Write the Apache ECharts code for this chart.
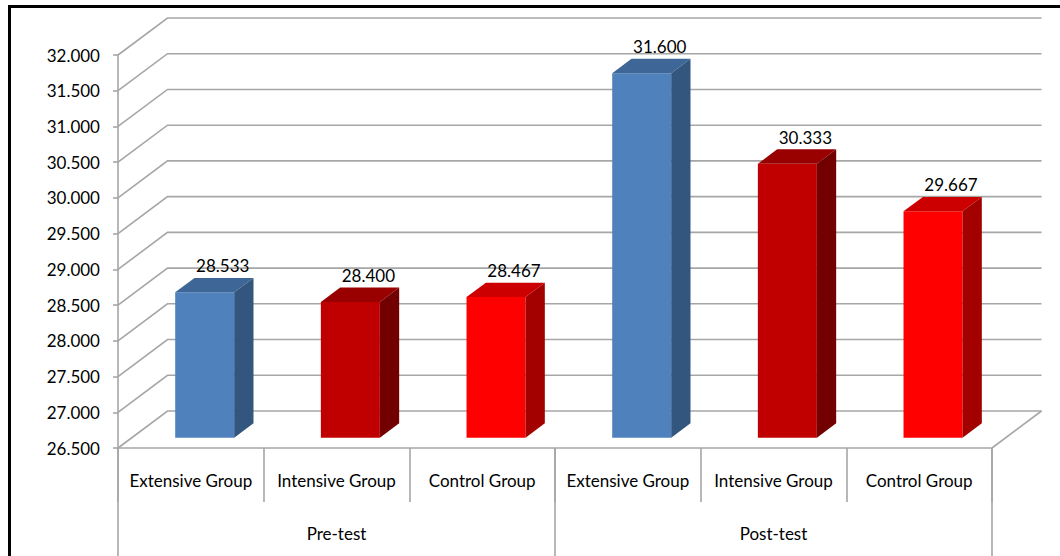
<!DOCTYPE html>
<html>
<head>
<meta charset="utf-8">
<style>
  html, body { margin: 0; padding: 0; background: #fff; }
  #chart { width: 1060px; height: 556px; }
</style>
<script src="https://cdn.jsdelivr.net/npm/echarts@6/dist/echarts.min.js"></script>
</head>
<body>
<div id="chart"></div>
<script>
// ---- data ----
const categories = ['Extensive Group', 'Intensive Group', 'Control Group', 'Extensive Group', 'Intensive Group', 'Control Group'];
const groups = ['Pre-test', 'Post-test'];
const values = [28.533, 28.400, 28.467, 31.600, 30.333, 29.667];
const yTicks = [26.5, 27, 27.5, 28, 28.5, 29, 29.5, 30, 30.5, 31, 31.5, 32];

// ---- style ----
const Y_MIN = 26.5, Y_MAX = 32, Y_STEP = 0.5;
const DX = 49.5, DY = -37;          // depth of the 3D box
const FONT = 'Lato';
const FS = 17;
const GRID_COLOR = '#a6a6a6';
const barStyles = [
  { front: '#4F81BD', top: '#3E6697', side: '#33567F' },
  { front: '#C00000', top: '#990000', side: '#720000' },
  { front: '#FF0000', top: '#CC0000', side: '#A30000' },
  { front: '#4F81BD', top: '#3E6697', side: '#33567F' },
  { front: '#C00000', top: '#990000', side: '#720000' },
  { front: '#FF0000', top: '#CC0000', side: '#A30000' }
];

const chart = echarts.init(document.getElementById('chart'), null, { renderer: 'svg' });

function wallItem(params, api) {
  const v = api.value(1);
  const p = api.coord([0, v]);
  const cs = params.coordSys;
  const left = cs.x, right = cs.x + cs.width;
  const y = p[1];
  const children = [{
    type: 'polyline',
    shape: { points: [[left, y], [left + DX, y + DY], [right + DX, y + DY]] },
    style: { stroke: GRID_COLOR, lineWidth: 1.6, fill: null }
  }];
  if (v === Y_MIN) {
    children.push({
      type: 'line',
      shape: { x1: right, y1: y, x2: right + DX, y2: y + DY },
      style: { stroke: GRID_COLOR, lineWidth: 1.6 }
    });
  }
  return { type: 'group', children: children };
}

function barItem(params, api) {
  const i = api.value(0), v = api.value(1);
  const base = api.coord([i, Y_MIN]);
  const top = api.coord([i, v]);
  const band = api.size([1, 0])[0];
  const w = band * 0.405;
  const d0 = 0.28, dd = 0.39;
  const x0 = base[0] - w / 2 + d0 * DX, x1 = x0 + w;
  const yb = base[1] + d0 * DY, yt = top[1] + d0 * DY;
  const ox = dd * DX, oy = dd * DY;
  const s = barStyles[i];
  return {
    type: 'group',
    children: [
      { type: 'rect', shape: { x: x0, y: yt, width: w, height: yb - yt }, style: { fill: s.front } },
      { type: 'polygon', shape: { points: [[x0, yt], [x1, yt], [x1 + ox, yt + oy], [x0 + ox, yt + oy]] }, style: { fill: s.top } },
      { type: 'polygon', shape: { points: [[x1, yt], [x1 + ox, yt + oy], [x1 + ox, yb + oy], [x1, yb]] }, style: { fill: s.side } },
      { type: 'text', x: (x0 + x1) / 2 + 18, y: yt + oy - 12,
        style: { text: v.toFixed(3), fill: '#000', font: FS + 'px ' + FONT, align: 'center', verticalAlign: 'middle' } }
    ]
  };
}

const axisLineStyle = { color: GRID_COLOR, width: 1.6 };

chart.setOption({
  animation: false,
  backgroundColor: '#fff',
  grid: { left: 118, right: 68, top: 55, bottom: 108, containLabel: false },
  xAxis: [
    {
      type: 'category', data: categories, position: 'bottom',
      axisLine: { show: true, lineStyle: axisLineStyle },
      axisTick: { show: true, length: 54, interval: 0, alignWithLabel: false, lineStyle: axisLineStyle },
      axisLabel: { interval: 0, margin: 32, verticalAlign: 'middle', color: '#000', fontFamily: FONT, fontSize: FS },
      splitLine: { show: false }
    },
    {
      type: 'category', data: groups, position: 'bottom',
      axisLine: { show: false },
      axisTick: { show: true, length: 112, interval: 0, alignWithLabel: false, lineStyle: axisLineStyle },
      axisLabel: { interval: 0, margin: 85, verticalAlign: 'middle', color: '#000', fontFamily: FONT, fontSize: FS },
      splitLine: { show: false }
    }
  ],
  yAxis: {
    type: 'value', min: Y_MIN, max: Y_MAX, interval: Y_STEP,
    axisLine: { show: true, lineStyle: axisLineStyle },
    axisTick: { show: true, length: 5, lineStyle: axisLineStyle },
    axisLabel: { margin: 18, color: '#000', fontFamily: FONT, fontSize: FS, formatter: v => v.toFixed(3) },
    splitLine: { show: false }
  },
  graphic: [{
    type: 'polyline', silent: true, z: 100,
    shape: { points: [[9.5, 570], [9.5, 6.5], [1070, 6.5]] },
    style: { stroke: '#000', lineWidth: 3, fill: null }
  }],
  series: [
    {
      type: 'custom', name: 'walls', z: 1,
      data: yTicks.map(v => [0, v]),
      renderItem: wallItem
    },
    {
      type: 'custom', name: 'bars', z: 3,
      data: values.map((v, i) => [i, v]),
      renderItem: barItem
    }
  ]
});
</script>
</body>
</html>
